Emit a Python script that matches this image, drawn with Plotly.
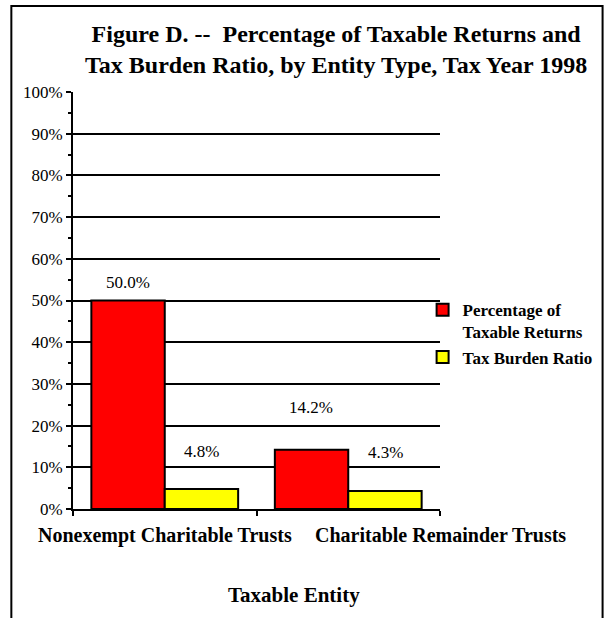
import plotly.graph_objects as go

entities = ["Nonexempt Charitable Trusts", "Charitable Remainder Trusts"]
pct_taxable = [50.0, 14.2]
burden_ratio = [4.8, 4.3]
series_names = ["<b>Percentage of<br>Taxable Returns</b>", "<b>Tax Burden Ratio</b>"]

SERIF = "Liberation Serif, Times New Roman, serif"

fig = go.Figure()

fig.add_trace(
    go.Bar(
        x=entities,
        y=pct_taxable,
        name=series_names[0],
        marker=dict(color="#ff0000", line=dict(color="black", width=2)),
    )
)

fig.add_trace(
    go.Bar(
        x=entities,
        y=burden_ratio,
        name=series_names[1],
        marker=dict(color="#ffff00", line=dict(color="black", width=2)),
    )
)

# value labels, Excel-style offsets above each bar
label_shift = [[18, 42], [37, 39]]
annotations = []
for s, vals in enumerate([pct_taxable, burden_ratio]):
    for i, v in enumerate(vals):
        annotations.append(
            dict(
                x=entities[i],
                y=v,
                text=f"{v:.1f}%",
                showarrow=False,
                xshift=(-37 if s == 0 else 37),
                yshift=label_shift[s][i],
                font=dict(family=SERIF, size=17, color="black"),
            )
        )

# category labels and axis title, placed like the original
annotations.append(dict(x=0.25, y=-0.063, xref="paper", yref="paper",
                        xanchor="center", yanchor="middle",
                        text="<b>Nonexempt Charitable Trusts</b>", showarrow=False,
                        font=dict(family=SERIF, size=20, color="black")))
annotations.append(dict(x=1.0, y=-0.063, xref="paper", yref="paper",
                        xanchor="center", yanchor="middle",
                        text="<b>Charitable Remainder Trusts</b>", showarrow=False,
                        font=dict(family=SERIF, size=20, color="black")))
annotations.append(dict(x=0.603, y=-0.206, xref="paper", yref="paper",
                        xanchor="center", yanchor="middle",
                        text="<b>Taxable Entity</b>", showarrow=False,
                        font=dict(family=SERIF, size=21, color="black")))

fig.update_layout(
    width=609,
    height=618,
    template="plotly_white",
    paper_bgcolor="white",
    plot_bgcolor="white",
    font=dict(family=SERIF, color="black"),
    barmode="group",
    bargap=0.2,
    bargroupgap=0,
    margin=dict(l=73, r=168, t=92, b=109),
    title=dict(
        text="<b>Figure D. --  Percentage of Taxable Returns and<br>Tax Burden Ratio, by Entity Type, Tax Year 1998</b>",
        x=0.552,
        xanchor="center",
        y=0.932,
        yanchor="top",
        font=dict(family=SERIF, size=24, color="black"),
    ),
    legend=dict(
        x=0.95,
        xanchor="left",
        y=0.52,
        yanchor="top",
        valign="top",
        font=dict(family=SERIF, size=17, color="black"),
        bgcolor="rgba(0,0,0,0)",
        tracegroupgap=10,
    ),
    xaxis=dict(
        showticklabels=False,
        showline=True,
        linecolor="black",
        linewidth=2,
        ticks="outside",
        tickson="boundaries",
        ticklen=5,
        tickwidth=2,
        tickcolor="black",
        showgrid=False,
    ),
    yaxis=dict(
        range=[0, 100],
        dtick=10,
        ticksuffix="%",
        showline=True,
        linecolor="black",
        linewidth=2,
        ticks="outside",
        ticklen=5,
        tickwidth=2,
        tickcolor="black",
        showgrid=True,
        gridcolor="black",
        gridwidth=2,
        zeroline=False,
        tickfont=dict(family=SERIF, size=17, color="black"),
        minor=dict(dtick=5, ticks="outside", ticklen=3, tickwidth=2, tickcolor="black", showgrid=False),
    ),
    annotations=annotations,
    shapes=[
        dict(type="rect", xref="paper", yref="paper",
             x0=-0.168, x1=1.443, y0=-0.32, y1=1.206,
             line=dict(color="black", width=2), fillcolor="rgba(0,0,0,0)"),
    ],
)

# page body default margin would push the figure 8px off
fig.write_html(
    "out.html",
    config={"displayModeBar": False},
    post_script="document.body.style.margin='0px';",
)
